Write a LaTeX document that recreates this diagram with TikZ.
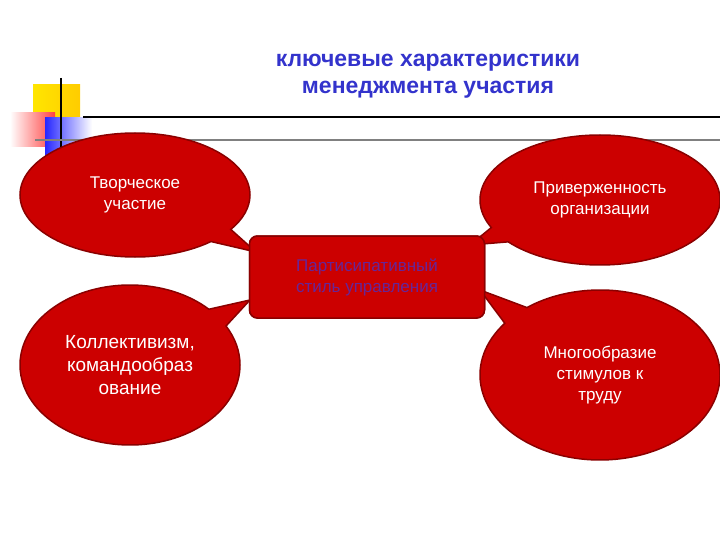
\documentclass[tikz,border=0pt]{standalone}
\usepackage{fontspec}
\setmainfont{Liberation Sans}
\usetikzlibrary{shapes.callouts}
\definecolor{rd}{HTML}{CC0000}
\definecolor{rdd}{HTML}{8A0000}
\definecolor{tb}{HTML}{3333CC}
\tikzset{bub/.style={ellipse callout, fill=rd, draw=rdd, line width=1.5pt, text=white, align=center, font=\fontsize{17}{21}\selectfont, inner sep=0pt},
 cbox/.style={rectangle, rounded corners=8pt, fill=rd, draw=rdd, line width=1.5pt, minimum width=235pt, minimum height=82pt, text=tb!75!red, align=center, font=\fontsize{17}{21}\selectfont}}
\begin{document}
\begin{tikzpicture}[x=1pt,y=-1pt]
\useasboundingbox (0,0) rectangle (720,540);
\shade[left color=yellow!80!orange, right color=yellow!60!orange] (33,85) rectangle (80,120);
\shade[left color=white, right color=red!75] (10,113) rectangle (55,147);
\shade[left color=blue!85, right color=white] (45,118) rectangle (92,158);
\draw[line width=1.5pt] (61,78) -- (61,155);
\draw[line width=1.5pt] (83,117) -- (720,117);
\draw[line width=1.5pt, gray] (35,140) -- (720,140);
\node[font=\bfseries\fontsize{23}{27}\selectfont, text=tb, align=center] (t) at (428,76) {ключевые характеристики\\менеджмента участия};
\node[cbox] (c) at (367,277) {Партисипативный\\стиль управления};
\node[bub, minimum width=230pt, minimum height=124pt, callout absolute pointer={(256,252)}] (a) at (135,195) {Творческое\\участие};
\node[bub, minimum width=240pt, minimum height=130pt, callout absolute pointer={(470,245)}] (b) at (600,200) {Приверженность\\организации};
\node[bub, minimum width=220pt, minimum height=160pt, font=\fontsize{19}{23}\selectfont, callout absolute pointer={(250,300)}] (d) at (130,365) {Коллективизм,\\командообраз\\ование};
\node[bub, minimum width=240pt, minimum height=170pt, callout absolute pointer={(480,290)}] (e) at (600,375) {Многообразие\\стимулов к\\труду};
\node[cbox] (c2) at (367,277) {Партисипативный\\стиль управления};
\end{tikzpicture}
\end{document}
